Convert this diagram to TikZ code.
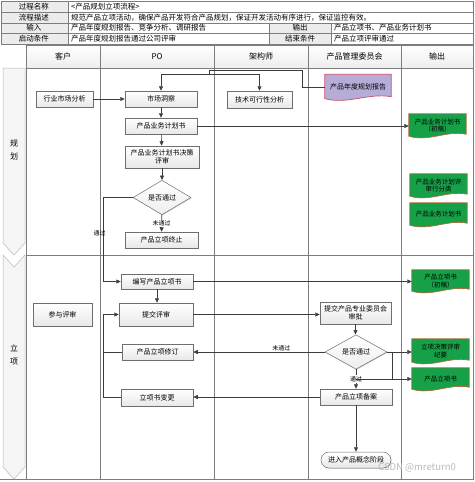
\documentclass[tikz,border=0pt]{standalone}
\usepackage{fontspec}
\setmainfont{Noto Sans CJK SC}
\usetikzlibrary{arrows.meta,shapes.geometric,shadows,backgrounds,calc}

\definecolor{rulegray}{RGB}{125,125,125}
\definecolor{linegray}{RGB}{60,60,60}
\definecolor{boxedge}{RGB}{110,110,110}
\definecolor{cellgray}{RGB}{236,236,236}
\definecolor{docgreen}{RGB}{22,160,72}
\definecolor{docbrown}{RGB}{170,110,60}
\definecolor{docpurple}{RGB}{182,172,216}
\definecolor{docred}{RGB}{200,80,105}

\tikzset{
  frame/.style={draw=rulegray, line width=0.6pt},
  cell/.style={font=\fontsize{7.5}{8}\selectfont, inner sep=1pt},
  lanehead/.style={font=\fontsize{8}{9}\selectfont, inner sep=1pt},
  phase/.style={draw=gray!55, fill=gray!8, line width=0.5pt},
  task/.style={draw=boxedge, top color=white, bottom color=gray!18, line width=0.5pt,
    align=center, inner sep=1pt, font=\fontsize{7}{8.5}\selectfont,
    drop shadow={shadow xshift=0.7pt, shadow yshift=-0.7pt, opacity=0.35}},
  check/.style={diamond, draw=boxedge, top color=white, bottom color=gray!14, line width=0.5pt,
    inner sep=0pt, font=\fontsize{7}{8}\selectfont,
    drop shadow={shadow xshift=0.7pt, shadow yshift=-0.7pt, opacity=0.35}},
  paper/.style={align=center, inner sep=1pt, font=\fontsize{6.5}{7.5}\selectfont,
    minimum width=57pt, minimum height=23pt},
  link/.style={draw=linegray, line width=0.6pt, -{Triangle[length=4.5pt,width=4pt]}},
  plain/.style={draw=linegray, line width=0.6pt},
  note/.style={font=\fontsize{6}{7}\selectfont, inner sep=1pt},
}

% wavy document outline behind a named node: name, fill, edge
\newcommand{\papershape}[3]{%
  \begin{pgfonlayer}{background}
  \draw[draw=#3, fill=#2, line width=0.7pt] (#1.north west) -- (#1.north east) -- ([yshift=3pt]#1.south east)
    .. controls ($(#1.south west)!0.65!(#1.south east)+(0pt,7pt)$) and ($(#1.south west)!0.35!(#1.south east)+(0pt,-5pt)$)
    .. ([yshift=1pt]#1.south west) -- cycle;
  \end{pgfonlayer}}

\begin{document}
\begin{tikzpicture}[x=1pt,y=-1pt]
\useasboundingbox (0,0) rectangle (474,482);

% process table
\fill[cellgray] (1,1) rectangle (68,44);
\fill[cellgray] (269,23) rectangle (331,44);
\draw[frame] (1,1) rectangle (473,44);
\draw[frame] (1,12) -- (473,12);
\draw[frame] (1,23) -- (473,23);
\draw[frame] (1,33) -- (473,33);
\draw[frame] (68,1) -- (68,44);
\draw[frame] (269,23) -- (269,44);
\draw[frame] (331,23) -- (331,44);

\node[cell] (tName) at (34,6.5) {过程名称};
\node[cell] (tDesc) at (34,17.5) {流程描述};
\node[cell] (tIn) at (34,28) {输入};
\node[cell] (tStart) at (34,38.5) {启动条件};
\node[cell] (tOut) at (300,28) {输出};
\node[cell] (tEnd) at (300,38.5) {结束条件};
\node[cell, anchor=west] (vName) at (70,6.5) {<产品规划立项流程>};
\node[cell, anchor=west] (vDesc) at (70,17.5) {规范产品立项活动，确保产品开发符合产品规划，保证开发活动有序进行，保证监控有效。};
\node[cell, anchor=west] (vIn) at (70,28) {产品年度规划报告、竞争分析、调研报告};
\node[cell, anchor=west] (vStart) at (70,38.5) {产品年度规划报告通过公司评审};
\node[cell, anchor=west] (vOut) at (333,28) {产品立项书、产品业务计划书};
\node[cell, anchor=west] (vEnd) at (333,38.5) {产品立项评审通过};

% swimlanes
\shade[top color=white, bottom color=gray!14] (26,45) rectangle (473,68);
\draw[phase] (3,68) -- (25,68) -- (25,243) -- (14,255) -- (3,243) -- cycle;
\draw[phase] (3,255) -- (14,267) -- (25,255) -- (25,467) -- (14,479) -- (3,467) -- cycle;
\draw[frame] (26,45) rectangle (473,479);
\draw[frame] (26,68) -- (473,68);
\draw[frame] (26,255) -- (473,255);
\draw[frame] (0,479) -- (473,479);
\draw[frame] (100,45) -- (100,479);
\draw[frame] (214,45) -- (214,479);
\draw[frame] (308,45) -- (308,479);
\draw[frame] (401,45) -- (401,479);

\node[lanehead] (hKehu) at (63,56.5) {客户};
\node[lanehead] (hPO) at (157,56.5) {PO};
\node[lanehead] (hJgs) at (261,56.5) {架构师};
\node[lanehead] (hWyh) at (354.5,56.5) {产品管理委员会};
\node[lanehead] (hOut) at (437,56.5) {输出};
\node[lanehead, align=center, font=\fontsize{8}{13}\selectfont] (pGuihua) at (14,150) {规\\划};
\node[lanehead, align=center, font=\fontsize{8}{13}\selectfont] (pLixiang) at (14,355) {立\\项};

% planning
\node[task, minimum width=57pt, minimum height=16pt] (hysc) at (64.5,99) {行业市场分析};
\node[task, minimum width=72pt, minimum height=16pt] (scdc) at (161,99) {市场洞察};
\node[task, minimum width=65pt, minimum height=17pt] (jskx) at (259.5,99.5) {技术可行性分析};
\node[paper, minimum width=66pt, minimum height=25pt, font=\fontsize{7}{8}\selectfont] (ndbg) at (358,87) {产品年度规划报告};
\node[task, minimum width=72pt, minimum height=16pt] (ywjh) at (161,126) {产品业务计划书};
\node[task, minimum width=74pt, minimum height=22pt, font=\fontsize{7}{8}\selectfont] (jcps) at (162,157) {产品业务计划书决策\\评审};
\node[check, minimum width=58pt, minimum height=33pt] (pass1) at (162,197.5) {是否通过};
\node[task, minimum width=73pt, minimum height=16pt] (zhongzhi) at (161.5,240) {产品立项终止};
\node[paper] (docA) at (437.5,125.5) {产品业务计划书\\（初稿）};
\node[paper] (docB) at (438.5,185.5) {产品业务计划评\\审行分类};
\node[paper] (docC) at (438.5,214.5) {产品业务计划书};

% approval
\node[task, minimum width=72pt, minimum height=15pt] (bianxie) at (157,281.5) {编写产品立项书};
\node[task, minimum width=59pt, minimum height=23pt] (canyu) at (62.5,314.5) {参与评审};
\node[task, minimum width=74pt, minimum height=23pt] (tijiao) at (156,314.5) {提交评审};
\node[task, minimum width=71pt, minimum height=22pt, font=\fontsize{7}{8}\selectfont] (shenpi) at (355.5,313) {提交产品专业委员会\\审批};
\node[check, minimum width=62pt, minimum height=22pt] (pass2) at (356,352) {是否通过};
\node[task, minimum width=71pt, minimum height=16pt] (xiuding) at (157.5,352) {产品立项修订};
\node[task, minimum width=72pt, minimum height=16pt] (beian) at (356,397) {产品立项备案};
\node[task, minimum width=72pt, minimum height=17pt] (biangeng) at (157,397.5) {立项书变更};
\node[task, rounded corners=8pt, minimum width=70pt, minimum height=16pt] (gainian) at (356,460) {进入产品概念阶段};
\node[paper, minimum height=22pt] (docD) at (440.5,281) {产品立项书\\（初稿）};
\node[paper, minimum height=24pt] (docE) at (440.5,351) {立项决策评审\\纪要};
\node[paper, minimum height=22pt] (docF) at (440.5,379) {产品立项书};

\papershape{ndbg}{docpurple}{docred}
\papershape{docA}{docgreen}{docbrown}
\papershape{docB}{docgreen}{docbrown}
\papershape{docC}{docgreen}{docbrown}
\papershape{docD}{docgreen}{docbrown}
\papershape{docE}{docgreen}{docbrown}
\papershape{docF}{docgreen}{docbrown}

\coordinate (k1) at (302,70);
\coordinate (k2) at (209,74);
\coordinate (rail) at (103,0);
\coordinate (split) at (392,0);

% planning links
\draw[plain] (ndbg.west) -| (k1) -| (k2);
\draw[plain] (scdc.north |- k2) -- (jskx.north |- k2);
\draw[link] (scdc.north |- k2) -- (scdc.north);
\draw[link] (jskx.north |- k2) -- (jskx.north);
\draw[link] (hysc) -- (scdc);
\draw[link] (scdc) -- (ywjh);
\draw[link] (ywjh) -- (jcps);
\draw[link] (jcps) -- (pass1);
\draw[link] (pass1) -- node[note, fill=white] {未通过} (zhongzhi);
\draw[link] (ywjh.east) -- (ywjh.east -| docA.west);
\draw[link] (pass1.west) -- (pass1.west -| rail) |- node[note, pos=0.21, xshift=-3.5pt] {通过} (bianxie.west);

% approval links
\draw[link] (bianxie.south) -- (bianxie.south |- tijiao.north);
\draw[link] (bianxie.east) -- (bianxie.east -| docD.west);
\draw[link] (tijiao.east) -- (tijiao.east -| shenpi.west);
\draw[link] (shenpi.south) -- (shenpi.south |- pass2.north);
\draw[link] (pass2.west) -- node[note, above, pos=0.33] {未通过} (pass2.west -| xiuding.east);
\draw[link] (pass2.south) -- node[note, fill=white] {通过} (beian.north);
\draw[link] (pass2.east) -- (pass2.east -| docE.west);
\draw[plain] (split |- pass2.east) -- (split |- docF.west);
\draw[link] (pass2.south |- docF.west) -- (docF.west);
\draw[link] (beian.west) -- (beian.west -| biangeng.east);
\draw[link] (beian.south) -- (gainian.north);
\draw[link] (biangeng.west) -- (biangeng.west -| rail) |- (tijiao.west);
\draw[plain] (xiuding.west) -- (xiuding.west -| rail);

\node[font=\fontsize{9.5}{10}\selectfont, text=gray!55] (mark) at (417,468) {CSDN @mreturn0};
\end{tikzpicture}
\end{document}
